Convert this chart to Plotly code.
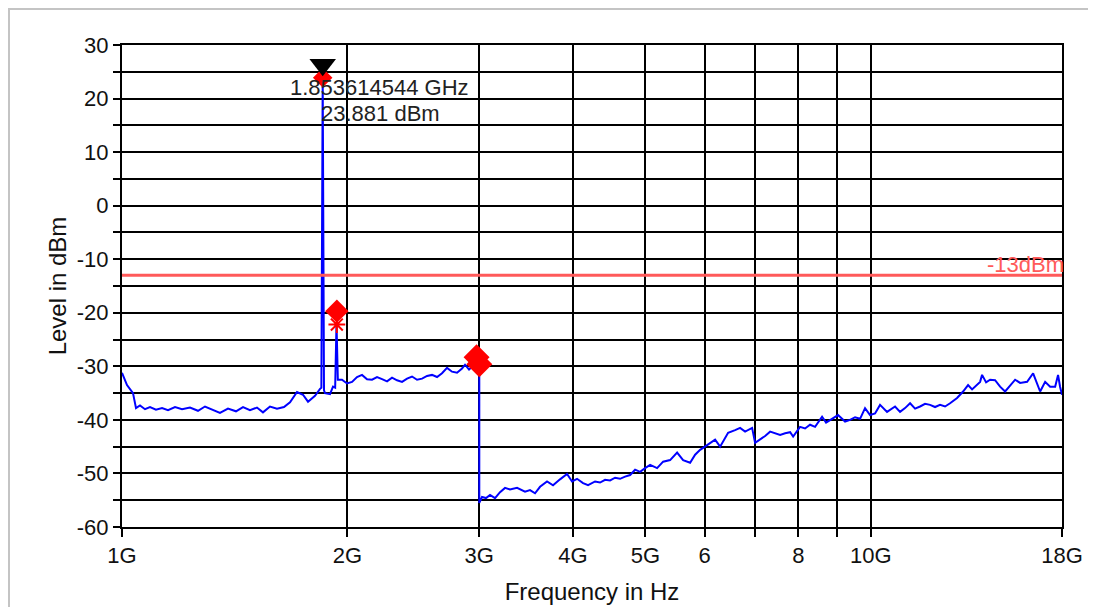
import math
import plotly.graph_objects as go

# ---- data (frequency in GHz, level in dBm) ----
freq_low = [1.000, 1.0155, 1.0344, 1.0440, 1.0569, 1.0733, 1.0899, 1.1101, 1.1310, 1.1520,
            1.1771, 1.2027, 1.2326, 1.2633, 1.2907, 1.3188, 1.3516, 1.3853, 1.4198, 1.4507,
            1.4822, 1.5144, 1.5426, 1.5762, 1.6106, 1.6456, 1.6763, 1.7128, 1.7447, 1.7718,
            1.8103, 1.8384, 1.8460, 1.8536, 1.8610, 1.8668, 1.8957, 1.9133, 1.9260, 1.9340,
            1.9420, 1.9670, 1.9975, 2.0285, 2.0599, 2.0918, 2.1243, 2.1572, 2.1906, 2.2246,
            2.2591, 2.2941, 2.3297, 2.3658, 2.4025, 2.4397, 2.4775, 2.5159, 2.5549, 2.5942,
            2.6345, 2.6753, 2.7167, 2.7589, 2.8016, 2.8450, 2.8713, 2.9069, 2.9428, 2.9792,
            2.9900, 3.0000]
level_low = [-31.2, -33.5, -35.0, -37.8, -37.3, -38.0, -37.6, -38.1, -37.8, -38.2,
             -37.6, -38.0, -37.7, -38.3, -37.5, -38.1, -38.7, -37.9, -38.4, -37.6,
             -38.2, -37.7, -38.6, -37.5, -37.9, -37.6, -36.7, -34.8, -35.3, -36.6,
             -35.5, -34.2, -34.0, 23.881, -34.5, -35.0, -35.2, -33.8, -34.0, -21.9,
             -32.5, -32.5, -33.2, -32.9, -32.0, -31.6, -32.4, -32.5, -32.0, -32.4,
             -32.8, -32.1, -32.6, -32.9, -32.3, -31.9, -32.5, -32.3, -31.8, -31.6,
             -32.0, -31.3, -30.3, -31.0, -31.2, -30.4, -29.7, -30.6, -29.9, -29.5,
             -29.3, -29.4]

freq_high = [3.000, 3.0254, 3.0628, 3.1007, 3.1488, 3.1976, 3.2472, 3.2975, 3.3693, 3.4531,
             3.5066, 3.5610, 3.6162, 3.6949, 3.7637, 3.8455, 3.9293, 3.9902, 4.0521, 4.1276,
             4.1916, 4.2829, 4.3492, 4.4167, 4.4852, 4.5547, 4.6253, 4.6970, 4.7699, 4.8439,
             4.9189, 4.9952, 5.0727, 5.1831, 5.2796, 5.3945, 5.5119, 5.6145, 5.7368, 5.8257,
             5.9160, 6.0446, 6.1949, 6.2910, 6.4475, 6.5876, 6.6897, 6.7934, 6.9413, 7.0056,
             7.1142, 7.2246, 7.3366, 7.4504, 7.5659, 7.6832, 7.8024, 7.8747, 8.0441, 8.1689,
             8.2956, 8.4242, 8.6074, 8.7140, 8.8217, 9.0413, 9.2378, 9.3811, 9.5265, 9.6742,
             9.8232, 9.9754, 10.130, 10.287, 10.511, 10.773, 10.940, 11.109, 11.282, 11.457,
             11.634, 11.814, 11.997, 12.183, 12.372, 12.564, 12.759, 13.036, 13.279, 13.485,
             13.652, 13.778, 13.992, 14.078, 14.253, 14.429, 14.653, 14.880, 15.111, 15.345,
             15.584, 15.825, 16.170, 16.471, 16.675, 16.830, 17.091, 17.356, 17.625, 17.783,
             17.893, 18.000]
level_high = [-55.5, -54.4, -54.6, -54.0, -54.6, -53.5, -52.7, -53.0, -52.7, -53.4,
              -53.1, -53.7, -52.5, -51.5, -52.2, -51.1, -50.1, -51.5, -51.0, -51.8,
              -52.2, -51.5, -51.7, -51.2, -51.3, -50.8, -51.0, -50.6, -50.3, -49.3,
              -49.7, -49.0, -48.4, -49.0, -47.8, -47.5, -46.1, -47.5, -48.0, -46.5,
              -45.6, -44.7, -43.7, -45.0, -42.4, -41.9, -41.5, -42.2, -41.5, -44.3,
              -43.7, -43.0, -42.2, -42.5, -42.8, -42.5, -42.3, -43.1, -41.3, -41.6,
              -40.9, -41.3, -39.4, -40.5, -40.0, -39.1, -40.3, -40.0, -39.5, -39.8,
              -37.8, -39.1, -38.8, -37.2, -38.5, -37.5, -38.5, -37.8, -36.9, -37.9,
              -37.5, -37.0, -37.2, -37.6, -37.2, -37.5, -36.9, -35.9, -34.7, -33.5,
              -34.3, -33.8, -32.9, -31.6, -33.0, -32.5, -32.6, -33.8, -34.7, -33.6,
              -32.5, -33.1, -32.9, -31.3, -33.1, -34.7, -32.9, -33.8, -33.8, -31.6,
              -33.8, -35.3]

peak_freq = 1.853614544
peak_level = 23.881
marker_freq = [1.853614544, 1.936, 2.975, 3.000]
marker_level = [23.881, -19.7, -28.3, -29.6]
star_freq = [1.936]
star_level = [-22.2]
ref_marker_freq = [1.853614544]
ref_marker_level = [26.3]
limit_level = -13
limit_label = "-13dBm"

x_tick_vals = [1, 2, 3, 4, 5, 6, 7, 8, 9, 10, 18]
x_tick_text = ["1G", "2G", "3G", "4G", "5G", "6", "", "8", "", "10G", "18G"]
y_tick_vals = [-60, -50, -40, -30, -20, -10, 0, 10, 20, 30]
y_tick_text = ["-60", "-50", "-40", "-30", "-20", "-10", "0", "10", "20", "30"]

FONT = "Liberation Sans, Arial, sans-serif"
RED_LINE = "#ff5a5a"

fig = go.Figure()
fig.add_trace(go.Scatter(x=freq_low + freq_high, y=level_low + level_high, mode="lines",
                         line=dict(color="#0000ff", width=2), hoverinfo="skip"))
fig.add_trace(go.Scatter(x=[freq_low[0], freq_high[-1]], y=[limit_level, limit_level], mode="lines",
                         line=dict(color=RED_LINE, width=3), hoverinfo="skip"))
fig.add_trace(go.Scatter(x=marker_freq[1:], y=marker_level[1:], mode="markers",
                         marker=dict(symbol="diamond", size=[18, 20, 20], color="#ff0000",
                                     opacity=1, line=dict(width=0))))
fig.add_trace(go.Scatter(x=marker_freq[:1], y=marker_level[:1], mode="markers",
                         marker=dict(symbol="diamond", size=15, color="#ff0000", opacity=1,
                                     line=dict(width=0))))
fig.add_trace(go.Scatter(x=star_freq, y=star_level, mode="markers",
                         marker=dict(symbol="asterisk-open", size=14, color="#ff0000",
                                     line=dict(color="#ff0000", width=2))))
fig.add_trace(go.Scatter(x=ref_marker_freq, y=ref_marker_level, mode="markers",
                         marker=dict(symbol="triangle-down", size=23, color="#000000", line=dict(width=0))))

peak_x_log = math.log10(peak_freq)
fig.add_annotation(x=peak_x_log, y=peak_level, xref="x", yref="y", text=f"{peak_freq:.9f} GHz",
                   showarrow=False, xshift=57, yshift=-10, font=dict(family=FONT, size=22, color="#222"))
fig.add_annotation(x=peak_x_log, y=peak_level, xref="x", yref="y", text=f"{peak_level:.3f} dBm",
                   showarrow=False, xshift=58, yshift=-36, font=dict(family=FONT, size=22, color="#222"))
fig.add_annotation(x=1, y=limit_level, xref="paper", yref="y", text=limit_label, showarrow=False,
                   xanchor="right", yanchor="bottom", xshift=4, yshift=-4,
                   font=dict(family=FONT, size=22, color=RED_LINE))

# outer frame along the figure edge
fig.add_shape(type="rect", xref="paper", yref="paper", x0=-113 / 940, x1=1 + 120 / 940,
              y0=-100 / 482, y1=1 + 36 / 482,
              line=dict(color="#c4c4c4", width=2), fillcolor="rgba(0,0,0,0)", layer="below")

fig.update_layout(
    width=1096, height=607,
    margin=dict(l=114, r=42, t=37, b=88),
    paper_bgcolor="white", plot_bgcolor="white",
    showlegend=False,
    font=dict(family=FONT, size=22, color="#111"),
)
fig.update_xaxes(type="log", range=[0, math.log10(18)], tickvals=x_tick_vals, ticktext=x_tick_text,
                 showgrid=True, gridcolor="black", gridwidth=2,
                 showline=True, linecolor="black", linewidth=2, mirror=True,
                 ticks="outside", ticklen=8, tickwidth=2, tickcolor="black",
                 title=dict(text="Frequency in Hz", font=dict(size=24), standoff=16),
                 tickfont=dict(size=22), zeroline=False)
fig.update_yaxes(range=[-60, 30], tickvals=y_tick_vals, ticktext=y_tick_text,
                 showgrid=True, gridcolor="black", gridwidth=2,
                 showline=True, linecolor="black", linewidth=2, mirror=True,
                 ticks="outside", ticklen=7, tickwidth=2, tickcolor="black",
                 minor=dict(dtick=5, tick0=0, showgrid=True, gridcolor="black", gridwidth=2,
                            ticks="outside", ticklen=7, tickwidth=2, tickcolor="black"),
                 title=dict(text="Level in dBm", font=dict(size=24), standoff=3),
                 tickfont=dict(size=22), zeroline=False)

fig.write_html("out.html")
